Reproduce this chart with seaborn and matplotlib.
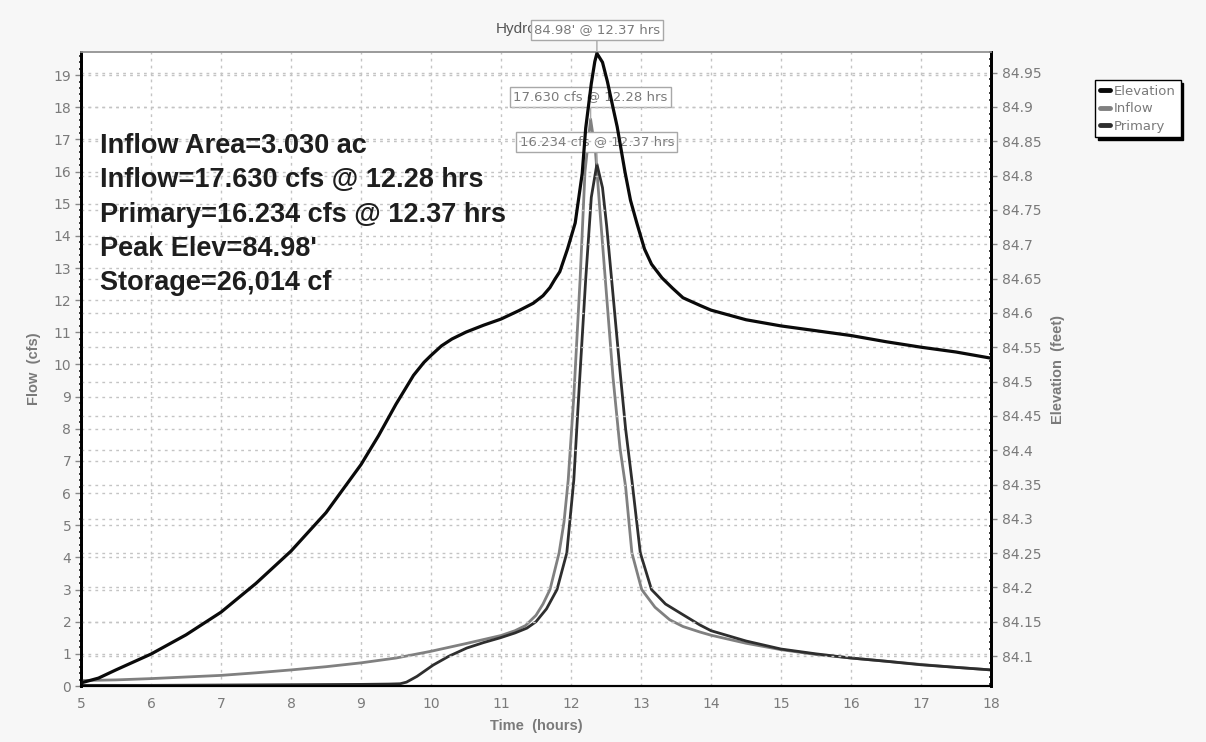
import matplotlib
matplotlib.use("Agg")
import matplotlib.pyplot as plt
from matplotlib.lines import Line2D
from matplotlib.ticker import FixedLocator, MultipleLocator, FuncFormatter
import seaborn as sns
import pandas as pd

# ---------------- data ----------------
time_inflow = [5.0, 5.5, 6.0, 6.5, 7.0, 7.5, 8.0, 8.5, 9.0, 9.5, 10.0, 10.5, 11.0, 11.2,
               11.35, 11.5, 11.6, 11.7, 11.83, 11.9, 11.96, 12.04, 12.13, 12.2, 12.28,
               12.35, 12.42, 12.49, 12.6, 12.7, 12.78, 12.87, 13.01, 13.2, 13.41, 13.6,
               13.84, 14.0, 14.5, 15.0, 15.5, 16.0, 16.5, 17.0, 17.5, 18.0]
inflow_cfs = [0.17, 0.19, 0.23, 0.28, 0.33, 0.41, 0.5, 0.6, 0.72, 0.87, 1.08, 1.32, 1.57, 1.72,
              1.88, 2.2, 2.55, 3.0, 4.14, 5.1, 6.4, 9.0, 12.65, 16.0, 17.63,
              16.6, 14.6, 12.65, 9.6, 7.4, 6.2, 4.14, 3.0, 2.45, 2.06, 1.85,
              1.68, 1.58, 1.33, 1.13, 0.98, 0.87, 0.77, 0.67, 0.58, 0.5]

time_primary = [5.0, 6.0, 7.0, 8.0, 9.0, 9.4, 9.56, 9.65, 9.8, 10.03, 10.25, 10.51, 10.75,
                10.99, 11.2, 11.37, 11.5, 11.65, 11.8, 11.94, 12.04, 12.12, 12.21, 12.29,
                12.37, 12.45, 12.51, 12.58, 12.7, 12.78, 12.87, 12.99, 13.15, 13.35, 13.56,
                13.84, 14.0, 14.5, 15.0, 15.5, 16.0, 16.5, 17.0, 17.5, 18.0]
primary_cfs = [0.02, 0.02, 0.03, 0.04, 0.05, 0.06, 0.07, 0.12, 0.3, 0.65, 0.92, 1.18, 1.35,
               1.5, 1.65, 1.8, 2.0, 2.4, 3.0, 4.14, 6.4, 9.4, 12.65, 15.2,
               16.234, 15.5, 14.3, 12.65, 9.8, 8.0, 6.4, 4.14, 3.0, 2.55, 2.27,
               1.9, 1.72, 1.4, 1.15, 1.0, 0.87, 0.77, 0.66, 0.58, 0.5]

time_elev = [5.0, 5.25, 5.5, 6.0, 6.5, 7.0, 7.5, 8.0, 8.5, 9.0, 9.25, 9.5, 9.75, 9.9, 10.0,
             10.15, 10.3, 10.5, 10.75, 11.0, 11.25, 11.46, 11.6, 11.7, 11.77, 11.84, 11.95,
             12.06, 12.16, 12.21, 12.29, 12.34, 12.37, 12.45, 12.52, 12.6, 12.66, 12.77,
             12.85, 12.94, 13.05, 13.15, 13.3, 13.45, 13.6, 13.84, 14.0, 14.5, 15.0, 15.5,
             16.0, 16.5, 17.0, 17.5, 18.0]
elev_ft = [84.061, 84.068, 84.080, 84.103, 84.131, 84.164, 84.206, 84.253, 84.309, 84.379,
           84.421, 84.467, 84.509, 84.528, 84.538, 84.552, 84.562, 84.572, 84.582, 84.591,
           84.603, 84.614, 84.625, 84.637, 84.649, 84.660, 84.693, 84.731, 84.803, 84.869,
           84.934, 84.966, 84.978, 84.965, 84.937, 84.899, 84.871, 84.806, 84.764, 84.731,
           84.693, 84.671, 84.651, 84.636, 84.622, 84.611, 84.604, 84.590, 84.581, 84.574,
           84.567, 84.558, 84.550, 84.543, 84.534]

flow_ticks = list(range(0, 20))
elev_ticks = [84.1, 84.15, 84.2, 84.25, 84.3, 84.35, 84.4, 84.45, 84.5, 84.55, 84.6,
              84.65, 84.7, 84.75, 84.8, 84.85, 84.9, 84.95]
time_ticks = list(range(5, 19))

summary_lines = ["Inflow Area=3.030 ac",
                 "Inflow=17.630 cfs @ 12.28 hrs",
                 "Primary=16.234 cfs @ 12.37 hrs",
                 "Peak Elev=84.98'",
                 "Storage=26,014 cf"]

peak_labels = {"Elevation": (12.37, 84.98, "84.98' @ 12.37 hrs"),
               "Inflow": (12.28, 17.63, "17.630 cfs @ 12.28 hrs"),
               "Primary": (12.37, 16.234, "16.234 cfs @ 12.37 hrs")}

# ---------------- style ----------------
sns.set_style("white")
plt.rcParams["font.family"] = ["Liberation Sans", "DejaVu Sans"]

GRAY_TXT = "#7a7a7a"
C_ELEV = "#0a0a0a"
C_INFLOW = "#808080"
C_PRIMARY = "#2e2e2e"
GRID_KW = dict(color="#c4c4c4", linestyle=(0, (2, 3)), linewidth=1.0)
SMALL_FONT = ["DejaVu Sans"]

fig = plt.figure(figsize=(12.06, 7.42), dpi=100, facecolor="#f7f7f7")
ax = fig.add_axes([81 / 1206, 1 - 686 / 742, 910 / 1206, 634 / 742])
ax.set_facecolor("white")
ax2 = ax.twinx()

df_in = pd.DataFrame({"t": time_inflow, "v": inflow_cfs})
df_pr = pd.DataFrame({"t": time_primary, "v": primary_cfs})
df_el = pd.DataFrame({"t": time_elev, "v": elev_ft})

sns.lineplot(data=df_in, x="t", y="v", ax=ax, color=C_INFLOW, linewidth=2.0, zorder=3)
sns.lineplot(data=df_pr, x="t", y="v", ax=ax, color=C_PRIMARY, linewidth=2.0, zorder=4)
sns.lineplot(data=df_el, x="t", y="v", ax=ax2, color=C_ELEV, linewidth=2.3, zorder=5)

ax.set_xlim(5, 18)
ax.set_ylim(0, 19.72)
ax2.set_ylim(84.0565, 84.98)

ax.xaxis.set_major_locator(FixedLocator(time_ticks))
ax.xaxis.set_minor_locator(MultipleLocator(0.2))
ax.yaxis.set_major_locator(FixedLocator(flow_ticks))
ax.yaxis.set_minor_locator(MultipleLocator(0.2))
ax2.yaxis.set_major_locator(FixedLocator(elev_ticks))
ax2.yaxis.set_minor_locator(MultipleLocator(0.01))
ax2.yaxis.set_major_formatter(FuncFormatter(lambda v, p: f"{round(v, 2):g}"))

ax.grid(True, which="major", **GRID_KW)
ax2.grid(True, which="major", axis="y", **GRID_KW)
ax.set_axisbelow(True)
ax2.set_axisbelow(True)

for a in (ax, ax2):
    a.tick_params(which="major", length=4, width=1, color="#888888",
                  labelsize=10, labelcolor=GRAY_TXT, direction="out")
    a.tick_params(which="minor", length=2.5, width=1.2, color="#222222", direction="inout")
    for lab in a.get_xticklabels() + a.get_yticklabels():
        lab.set_family(SMALL_FONT)
ax.tick_params(axis="x", pad=4)
ax.tick_params(axis="y", pad=3)
ax2.tick_params(axis="y", pad=4)

for a in (ax, ax2):
    a.spines["top"].set_color("#9a9a9a")
    a.spines["top"].set_linewidth(1.2)
    a.spines["left"].set_color("black")
    a.spines["left"].set_linewidth(2.0)
    a.spines["right"].set_color("black")
    a.spines["right"].set_linewidth(2.0)
    a.spines["bottom"].set_color("black")
    a.spines["bottom"].set_linewidth(1.5)

ax.set_xlabel("Time  (hours)", color=GRAY_TXT, fontsize=10.5, fontweight="bold", labelpad=6)
ax.set_ylabel("Flow  (cfs)", color=GRAY_TXT, fontsize=10.5, fontweight="bold", labelpad=9)
ax2.set_ylabel("Elevation  (feet)", color=GRAY_TXT, fontsize=10.5, fontweight="bold", labelpad=7)
ax.set_title("Hydrograph", color="#555555", fontsize=11, pad=14)

# summary text block
for i, line in enumerate(summary_lines):
    fig.text(100 / 1206, 1 - (146 + i * 34.3) / 742, line, fontsize=19.5, fontweight="bold",
             color="#1e1e1e", va="center", ha="left")

# peak annotation boxes
box_kw = dict(boxstyle="square,pad=0.25", facecolor="white", edgecolor="#a8a8a8", linewidth=1)
for name, (tx, ty, txt) in peak_labels.items():
    target = ax2 if name == "Elevation" else ax
    target.annotate(txt, xy=(tx, ty), xytext=(0, 16), textcoords="offset points",
                    ha="center", va="center", fontsize=9.5, family=SMALL_FONT,
                    color=GRAY_TXT, bbox=box_kw,
                    arrowprops=dict(arrowstyle="-", color="#a8a8a8", lw=1, shrinkA=0, shrinkB=0),
                    annotation_clip=False, zorder=10)

# legend
handles = [Line2D([], [], color=C_ELEV, lw=3.5),
           Line2D([], [], color=C_INFLOW, lw=3.5),
           Line2D([], [], color=C_PRIMARY, lw=3.5)]
leg = fig.legend(handles, ["Elevation", "Inflow", "Primary"], loc="upper left",
                 bbox_to_anchor=(1095 / 1206, 1 - 80 / 742), frameon=True, fancybox=False,
                 shadow={"color": "black", "alpha": 1.0}, edgecolor="black", framealpha=1,
                 prop={"family": SMALL_FONT, "size": 9.5}, handlelength=0.8,
                 handletextpad=0.3, borderpad=0.35, labelspacing=0.35, borderaxespad=0)
for t in leg.get_texts():
    t.set_color(GRAY_TXT)

fig.savefig("out.png", dpi=100, facecolor=fig.get_facecolor())
